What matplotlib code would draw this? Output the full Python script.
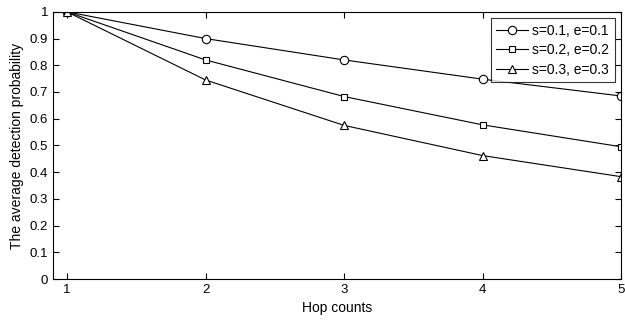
import numpy as np
import matplotlib
matplotlib.use('Agg')
import matplotlib.pyplot as plt

plt.rcParams['font.family'] = ['Liberation Sans', 'DejaVu Sans']

hops = [1, 2, 3, 4, 5]
s01 = [1.0, 0.90, 0.82, 0.748, 0.685]
s02 = [1.0, 0.82, 0.683, 0.577, 0.495]
s03 = [1.0, 0.745, 0.575, 0.462, 0.383]
labels = ['s=0.1, e=0.1', 's=0.2, e=0.2', 's=0.3, e=0.3']
markers = ['o', 's', '^']

fig = plt.figure(figsize=(6.25, 3.2), dpi=100)
ax = fig.add_axes([0.085, 0.128, 0.909, 0.835])

for ys, m, lab in zip([s01, s02, s03], markers, labels):
    ax.plot(hops, ys, color='black', lw=0.8, marker=m, ms=6 if m != 's' else 5,
            mfc='white', mec='black', mew=0.8, label=lab)

ax.set_xlim(0.9, 5)
ax.set_ylim(0, 1)
ax.set_xticks(hops)
ax.set_yticks(np.arange(0, 1.01, 0.1))
ax.set_yticklabels(['0', '0.1', '0.2', '0.3', '0.4', '0.5', '0.6', '0.7', '0.8', '0.9', '1'])
ax.tick_params(direction='in', length=4, labelsize=9.5, top=True, right=True)
for sp in ax.spines.values():
    sp.set_linewidth(0.8)

ax.set_xlabel('Hop counts', fontsize=10)
ax.set_ylabel('The average detection probability', fontsize=10)

leg = ax.legend(loc='upper right', fontsize=10, frameon=True, fancybox=False,
                edgecolor='black', borderaxespad=0.45, handlelength=2.3,
                handletextpad=0.3, labelspacing=0.4, borderpad=0.4)
leg.get_frame().set_linewidth(0.8)

fig.savefig('out.png', dpi=100)
